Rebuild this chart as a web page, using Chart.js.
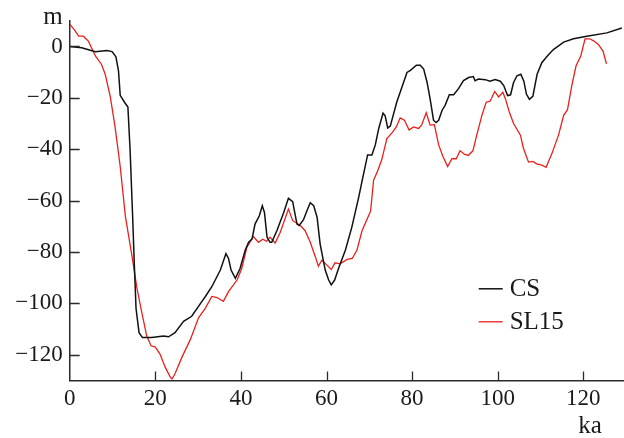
<!DOCTYPE html>
<html>
<head>
<meta charset="utf-8">
<style>
  html, body { margin: 0; padding: 0; background: #fff; overflow: hidden; }
  #wrap { width: 624px; height: 438px; }
</style>
<script src="https://cdn.jsdelivr.net/npm/chart.js@4.4.1/dist/chart.umd.min.js"></script>
</head>
<body>
<div id="wrap"><canvas id="c" width="624" height="438"></canvas></div>
<script>
// ---- data ----
const xTickValues = [0, 20, 40, 60, 80, 100, 120];
const yTickValues = [-120, -100, -80, -60, -40, -20, 0];
const seriesNames = ['CS', 'SL15'];
const xAxisLabel = 'ka';
const yAxisLabel = 'm';

const csAge = [0, 2.8, 6, 8.7, 9.9, 10.8, 11.4, 11.8, 12.8, 13.6, 14.1, 14.7, 15.1, 15.5, 16.2, 17, 19.2, 21.9, 23.1, 24.6,
  26.6, 28.5, 30.9, 31.7, 33.2, 35.2, 36.5, 37.1, 37.7, 38.7, 39.8, 41, 41.8, 42.6, 43.3, 44.3, 45, 45.5, 46.1, 46.8,
  47.2, 48.4, 50, 51.1, 52.1, 52.5, 53.1, 53.6, 54.6, 55.4, 56.2, 57, 57.8, 58.5, 59.7, 60.5, 61.1, 61.9, 62.8, 64.4,
  65.9, 67.5, 68.3, 69.6, 70.6, 71.4, 72.2, 73.2, 73.7, 74.3, 74.9, 76.4, 78.8, 79.6, 81, 81.9, 82.7, 83.5, 84.2, 85,
  85.6, 86.2, 87, 87.7, 88.7, 89.7, 90.8, 92, 93.2, 94.3, 94.7, 95.5, 97.1, 98.2, 99.4, 100.6, 101.4, 102.3, 103, 103.7,
  104.5, 105.4, 106.1, 106.7, 107.4, 108.2, 109.2, 110.3, 111.6, 113, 115.4, 117.7, 120.8, 125.5, 129];
const csLevel = [0, -0.5, -2, -1.6, -2, -4, -9.5, -19, -21.7, -23.6, -40, -66, -85, -102, -111.4, -113.3, -113.3, -112.7, -113, -111.4,
  -107, -105, -99.2, -97.3, -93.5, -87, -80.6, -82.5, -87, -90.2, -86.4, -79.3, -76.2, -74.9, -69.1, -65.9, -62, -64.6, -74.2, -76.2,
  -76.2, -71.7, -64.6, -59.1, -60.4, -64, -69.1, -69.7, -67.5, -64, -60.8, -62, -66.5, -76.8, -87, -90.9, -92.8, -90.9, -86.4, -79.3,
  -70.4, -58.8, -52.4, -42.2, -42.2, -38.3, -31.9, -25.9, -27, -31.7, -31, -21.7, -10.1, -9.3, -7.3, -7.3, -8.8, -14, -20.4, -28.7,
  -29.6, -28.7, -24.8, -22.9, -18.8, -18.8, -16.5, -13.3, -12.1, -11.7, -13.3, -12.7, -12.9, -13.5, -12.9, -13.5, -15.2, -19.1, -18.8, -14,
  -11.4, -10.8, -13.5, -18.5, -20.6, -19.4, -10.8, -6.3, -3.7, -1.2, 1.7, 3, 4, 5.3, 7.2];

const sl15Age = [0.1, 1.1, 2.1, 3.2, 4.4, 6, 7.4, 8.3, 9.5, 10.6, 11.8, 13, 14.5, 15.7, 16.9, 18, 19, 20, 21.1, 22.3,
  23.5, 23.9, 24.6, 26.2, 28.2, 30.1, 31.7, 33.2, 34.4, 35.9, 37.1, 39.1, 40.2, 41.4, 42.9, 44.1, 45.1, 46, 46.8, 48,
  49.2, 51.1, 52.1, 53.9, 55, 56.2, 57.4, 58.1, 58.9, 60.1, 61.1, 62, 63.2, 64.8, 66, 67.1, 68.3, 69.8, 70.3, 71,
  71.8, 72.9, 74.1, 75.3, 76.3, 77.2, 78.2, 79.3, 80.3, 81.5, 82.2, 83.3, 84.2, 85.2, 86.2, 87.2, 88.3, 89.3, 90.3, 91.2,
  92.2, 93.1, 94.2, 95.1, 96.3, 97.3, 98.2, 99.3, 100.2, 101.2, 101.8, 102.7, 103.7, 105.3, 106, 107.2, 108.2, 109.1, 110.3, 111.3,
  112.7, 114.2, 115.4, 116.3, 117.3, 118.3, 119.4, 120.4, 121.5, 122.4, 123.5, 124.6, 125.4];
const sl15Level = [8.5, 6.5, 4, 4, 2, -3.7, -6.9, -10.8, -19.7, -31.3, -46.7, -66, -81, -94, -104, -112.7, -116.5, -117, -119.7, -124.8,
  -128.7, -129.4, -127.4, -121, -114, -105.6, -101.8, -97.3, -97.7, -99.2, -95.4, -90.9, -86.4, -78.1, -74, -76.2, -75, -75.8, -74.2, -76.5,
  -72.3, -63.3, -67.8, -69.7, -71.7, -76.2, -81.9, -85.5, -83.2, -85.1, -86.8, -84.2, -84.6, -82.9, -82.5, -79.3, -71.7, -66, -64, -52,
  -49, -44.1, -35.8, -33.6, -31.3, -27.8, -28.7, -32.5, -31.3, -31.9, -30.6, -25.8, -30.6, -30.4, -38.3, -42.8, -46.7, -43.7, -43.7, -40.6,
  -41.9, -42.4, -40.6, -34.5, -26.8, -21.7, -21.3, -17.5, -19.6, -17.8, -20.4, -25.5, -30, -34.5, -39.6, -45, -44.7, -45.7, -46.2, -47,
  -41.5, -34.5, -26.8, -24.6, -15.2, -7.5, -3.7, 3, 3, 2.2, 0.8, -1.8, -6.7];

// ---- styling ----
const FONT = '"Liberation Serif", "Times New Roman", serif';
const TEXT = '#1a1a1a';
const AXIS = '#2a2a2a';

function pts(xs, ys) { return xs.map((x, i) => ({ x: x, y: ys[i] })); }

const decorPlugin = {
  id: 'decor',
  afterDraw(chart) {
    const ctx = chart.ctx;
    const xs = chart.scales.x, ys = chart.scales.y;
    const a = chart.chartArea;
    ctx.save();
    // inward tick marks
    ctx.strokeStyle = AXIS;
    ctx.lineWidth = 1.3;
    ctx.beginPath();
    xTickValues.forEach(v => {
      if (v === xs.min) return;
      const px = Math.round(xs.getPixelForValue(v)) + 0.5;
      ctx.moveTo(px, a.bottom); ctx.lineTo(px, a.bottom - 9);
    });
    yTickValues.forEach(v => {
      const py = Math.round(ys.getPixelForValue(v)) + 0.5;
      ctx.moveTo(a.left, py); ctx.lineTo(a.left + 10, py);
    });
    ctx.stroke();
    // axis unit labels
    ctx.fillStyle = TEXT;
    ctx.font = '25px ' + FONT;
    ctx.textBaseline = 'middle';
    ctx.textAlign = 'center';
    ctx.fillText(yAxisLabel, 53, 17);
    ctx.fillText(xAxisLabel, 590, 426);
    // legend
    ctx.textAlign = 'left';
    chart.data.datasets.forEach((ds, i) => {
      const y = a.top + 268 + i * 33;
      const x0 = a.left + 409;
      ctx.strokeStyle = ds.borderColor;
      ctx.lineWidth = ds.borderWidth;
      ctx.beginPath();
      ctx.moveTo(x0, y); ctx.lineTo(x0 + 24, y);
      ctx.stroke();
      ctx.fillStyle = TEXT;
      ctx.fillText(ds.label, x0 + 31, y + 1);
    });
    ctx.restore();
  }
};

new Chart(document.getElementById('c'), {
  type: 'scatter',
  data: {
    datasets: [
      { label: seriesNames[0], data: pts(csAge, csLevel), showLine: true, borderColor: '#111111', borderWidth: 1.5,
        pointRadius: 0, tension: 0, fill: false },
      { label: seriesNames[1], data: pts(sl15Age, sl15Level), showLine: true, borderColor: '#e8201c', borderWidth: 1.3,
        pointRadius: 0, tension: 0, fill: false }
    ]
  },
  options: {
    responsive: false,
    animation: false,
    layout: { padding: { top: 17.7, left: 0, right: 0, bottom: 0 } },
    plugins: { legend: { display: false }, tooltip: { enabled: false } },
    scales: {
      x: {
        type: 'linear', min: 0, max: 129.5,
        afterBuildTicks: s => { s.ticks = xTickValues.map(v => ({ value: v })); },
        afterFit: s => { s.height = 57.5; },
        grid: { display: false, drawTicks: false },
        border: { display: true, color: AXIS, width: 1.5 },
        ticks: { color: TEXT, font: { family: FONT, size: 23 }, padding: 5, maxRotation: 0, autoSkip: false }
      },
      y: {
        type: 'linear', min: -130, max: 10,
        afterBuildTicks: s => { s.ticks = yTickValues.map(v => ({ value: v })); },
        afterFit: s => { s.width = 69.7; },
        grid: { display: false, drawTicks: false },
        border: { display: true, color: AXIS, width: 1.5 },
        ticks: { color: TEXT, font: { family: FONT, size: 23 }, padding: 7,
          callback: v => String(v).replace('-', '\u2212') }
      }
    }
  },
  plugins: [decorPlugin]
});
</script>
</body>
</html>
